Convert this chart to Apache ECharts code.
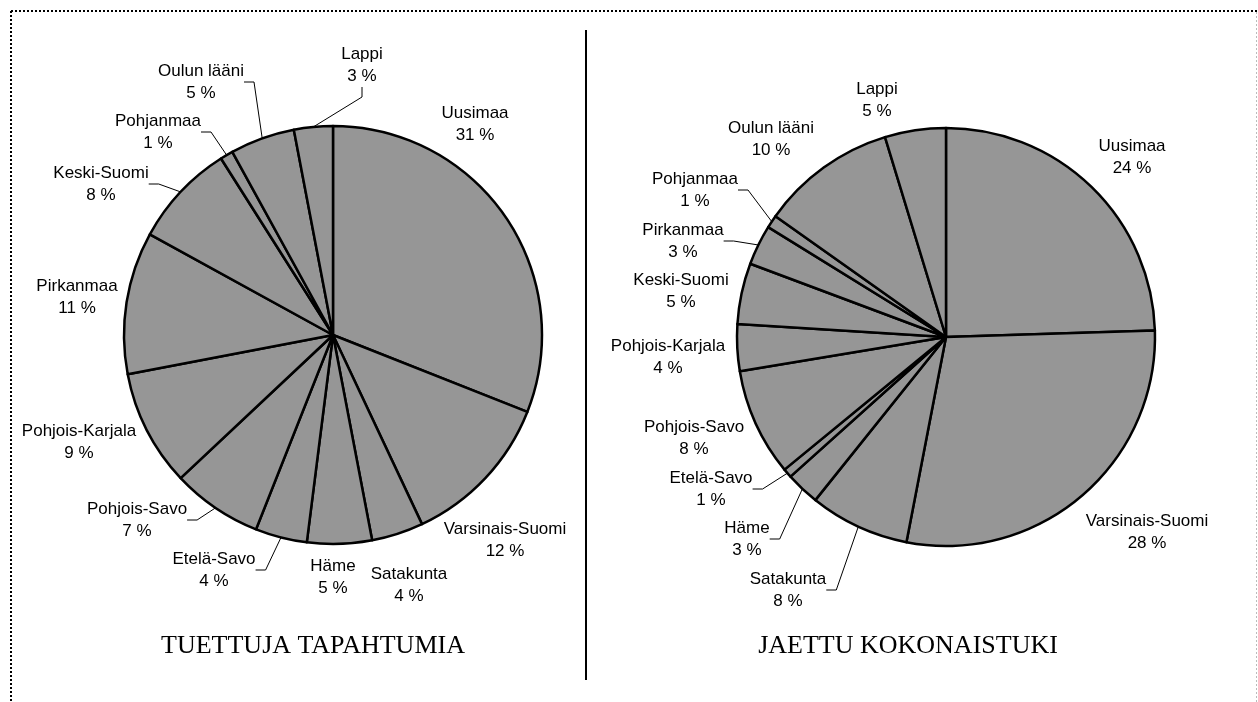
<!DOCTYPE html>
<html>
<head>
<meta charset="utf-8">
<title>Tuetut tapahtumat ja jaettu tuki</title>
<script src="https://cdn.jsdelivr.net/npm/echarts@6/dist/echarts.min.js"></script>
<style>
  html, body { margin: 0; padding: 0; background: #fff; }
  #chart { width: 1258px; height: 702px; }
</style>
</head>
<body>
<div id="chart"></div>
<script>
// regions, clockwise from 12 o'clock
const eventRegions = ['Uusimaa', 'Varsinais-Suomi', 'Satakunta', 'Häme', 'Etelä-Savo', 'Pohjois-Savo',
  'Pohjois-Karjala', 'Pirkanmaa', 'Keski-Suomi', 'Pohjanmaa', 'Oulun lääni', 'Lappi']
const eventShares = [31, 12, 4, 5, 4, 7, 9, 11, 8, 1, 5, 3]

const grantRegions = ['Uusimaa', 'Varsinais-Suomi', 'Satakunta', 'Häme', 'Etelä-Savo', 'Pohjois-Savo',
  'Pohjois-Karjala', 'Keski-Suomi', 'Pirkanmaa', 'Pohjanmaa', 'Oulun lääni', 'Lappi']
// shares; labels show them rounded
const grantShares = [24.45, 28.45, 7.7, 2.6, 0.7, 8.3, 3.6, 4.7, 3.1, 1.0, 10.45, 4.7]

const chartTitles = ['TUETTUJA TAPAHTUMIA', 'JAETTU KOKONAISTUKI']

// where the labels sit (centre of the two-line text) and which get a leader line
const eventLabelSpots = [[475, 124], [505, 540], [409, 585], [333, 577], [214, 570], [137, 520],
  [79, 442], [77, 297], [101, 184], [158, 132], [201, 82], [362, 65]]
const eventLeaders = [false, false, false, false, true, true, false, false, true, true, true, true]
const grantLabelSpots = [[1132, 157], [1147, 532], [788, 590], [747, 539], [711, 489], [694, 438],
  [668, 357], [681, 291], [683, 241], [695, 190], [771, 139], [877, 100]]
const grantLeaders = [false, false, true, true, true, false, false, false, true, true, false, false]

const labelSpots = [eventLabelSpots, grantLabelSpots]

const chart = echarts.init(document.getElementById('chart'))

function pieSeries(names, values, leaders, center) {
  return {
    type: 'pie',
    center: center,
    radius: 209,
    startAngle: 90,
    clockwise: true,
    avoidLabelOverlap: false,
    silent: true,
    animation: false,
    itemStyle: {
      color: '#969696',
      borderColor: '#000',
      borderWidth: 2.5
    },
    label: {
      show: true,
      position: 'outside',
      formatter: function (p) {
        return p.name + '\n' + Math.round(p.value) + ' %'
      },
      color: '#000',
      fontFamily: 'Liberation Sans, Arial, sans-serif',
      fontSize: 17,
      lineHeight: 22,
      align: 'center'
    },
    labelLine: {
      length: 8,
      length2: 10,
      lineStyle: { color: '#000', width: 1 }
    },
    labelLayout: function (params) {
      const spot = labelSpots[params.seriesIndex][params.dataIndex]
      return { x: spot[0], y: spot[1], align: 'center', verticalAlign: 'middle' }
    },
    emphasis: { disabled: true },
    data: names.map(function (name, i) {
      return { name: name, value: values[i], labelLine: { show: leaders[i] } }
    })
  }
}

chart.setOption({
  backgroundColor: '#fff',
  title: [
    {
      text: chartTitles[0], left: 308, top: 628, textAlign: 'center',
      textStyle: { fontFamily: 'Liberation Serif, Times New Roman, serif', fontSize: 26, fontWeight: 'normal', color: '#000' }
    },
    {
      text: chartTitles[1], left: 903, top: 628, textAlign: 'center',
      textStyle: { fontFamily: 'Liberation Serif, Times New Roman, serif', fontSize: 26, fontWeight: 'normal', color: '#000' }
    }
  ],
  graphic: [
    { type: 'line', shape: { x1: 11, y1: 11, x2: 1257, y2: 11 }, style: { stroke: '#000', lineWidth: 2, lineDash: [2, 2] }, silent: true },
    { type: 'line', shape: { x1: 11, y1: 11, x2: 11, y2: 702 }, style: { stroke: '#000', lineWidth: 2, lineDash: [2, 2] }, silent: true },
    { type: 'line', shape: { x1: 1256.5, y1: 12, x2: 1256.5, y2: 702 }, style: { stroke: '#bbb', lineWidth: 1, lineDash: [2, 2] }, silent: true },
    { type: 'line', shape: { x1: 586, y1: 30, x2: 586, y2: 680 }, style: { stroke: '#000', lineWidth: 2 }, silent: true }
  ],
  series: [
    pieSeries(eventRegions, eventShares, eventLeaders, [333, 335]),
    pieSeries(grantRegions, grantShares, grantLeaders, [946, 337])
  ]
})
</script>
</body>
</html>
